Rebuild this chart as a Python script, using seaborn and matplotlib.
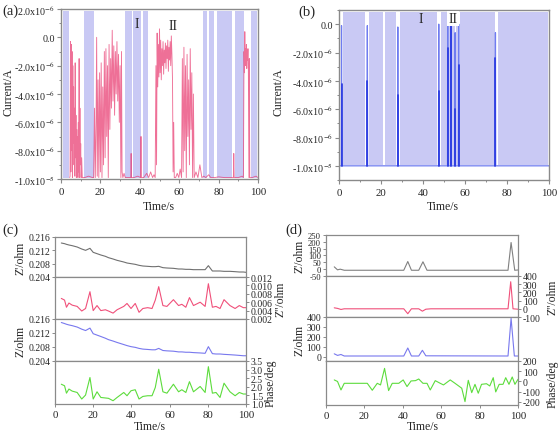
import numpy as np
import pandas as pd
import matplotlib
matplotlib.use("Agg")
import matplotlib.pyplot as plt
import seaborn as sns
from matplotlib.ticker import FixedLocator, FixedFormatter, MultipleLocator

sns.set_theme(style="white")
plt.rcParams["font.family"] = ["Liberation Serif", "DejaVu Serif"]
plt.rcParams["mathtext.fontset"] = "stix"
plt.rcParams["axes.unicode_minus"] = False

# ---------------- data: panel (a) ----------------
time_a = [4.4,
    4.6, 4.8, 5.0, 5.2, 5.4, 5.6, 5.8, 6.0, 6.2, 6.4, 6.6, 6.8, 7.0, 7.2, 7.4, 7.6, 7.8, 8.0, 8.2, 8.4,
    8.6, 8.8, 9.0, 9.2, 9.4, 9.6, 9.8, 10.0, 10.2, 10.5, 10.8,
    12.0, 14.0, 16.0,
    16.6, 17.0, 17.4, 17.8, 18.1, 18.4, 18.8, 19.2, 19.6, 20.0, 20.4, 20.8, 21.2, 21.6, 22.0, 22.4, 22.8,
    23.2, 23.6, 24.0, 24.4, 24.8, 25.2, 25.6, 26.0, 26.4, 26.8, 27.2, 27.6, 28.0, 28.4, 28.8, 29.2, 29.6,
    30.0, 30.4, 30.7, 31.0, 31.4, 32.0, 32.6,
    34.0, 35.4, 35.6, 35.8, 37.0, 39.0, 40.4, 40.6, 40.8, 42.0, 43.5, 44.5, 45.5, 46.5, 47.2,
    47.8, 48.2, 48.5, 48.8, 49.1, 49.4, 49.7, 50.0, 50.3, 50.6, 50.9, 51.2, 51.5, 51.8, 52.1, 52.4, 52.7,
    53.0, 53.3, 53.6, 53.9, 54.2, 54.5, 54.8, 55.1, 55.4, 55.7, 56.0, 56.3, 56.6, 56.9, 57.2, 57.5,
    58.2, 59.0, 59.8, 60.5,
    61.2, 61.6, 62.0, 62.4, 62.8, 63.2, 63.6, 64.0, 64.4, 64.8, 65.2, 65.6, 66.0, 66.4, 66.8, 67.2, 67.6,
    68.5, 69.5, 70.5, 71.5, 72.5, 73.5, 75.0, 76.0, 78.0, 80.0, 83.0, 86.0, 87.5, 87.7, 87.9, 90.0, 92.0,
    92.6, 92.9, 93.1, 93.3, 93.5, 93.7, 93.9, 94.1, 94.3, 94.5, 94.7, 94.9, 95.1, 95.4, 95.6, 95.8,
    97.0, 99.0, 100.0]
current_a_uA = [-9.9,
    -9.8, -0.3, -9.5, -0.5, -8.0, -1.0, -9.9, -2.0, -7.5, -3.5, -9.0, -5.0, -9.8, -1.8, -8.5, -5.5, -9.9, -6.5, -9.0, -7.0,
    -9.9, -6.0, -9.5, -1.5, -9.9, -5.0, -9.0, -7.5, -9.9, -8.5, -9.9,
    -9.9, -9.8, -9.9,
    -9.9, -5.0, -9.9, -6.0, 0.0, -9.8, -3.0, -9.9, -2.5, -9.5, -1.8, -9.9, -3.5, -9.0, -1.0, -8.5, -0.8,
    -7.0, -2.0, -9.9, -0.5, -6.5, -1.5, -5.0, 0.5, -4.5, -0.6, -5.5, -1.0, -4.0, -0.3, -4.5, -1.2, -6.0,
    -2.0, -9.9, -1.0, -9.5, -9.9, -9.6, -9.9,
    -9.9, -9.9, -8.2, -9.9, -9.9, -9.8, -9.9, -7.0, -9.9, -9.9, -9.6, -9.9, -9.5, -9.9, -9.7,
    -9.9, -2.0, -9.0, 0.3, -3.5, -0.5, -2.8, 0.6, -2.5, -0.2, -3.0, -0.8, -2.0, -0.3, -2.6, -0.9, -1.8,
    -0.4, -2.2, -0.6, -1.5, -0.2, -2.4, -0.7, -1.6, -0.3, -2.0, 0.1, -1.2, -3.0, -9.5, -6.0, -9.9,
    -9.9, -9.6, -9.9, -9.3,
    -9.9, -1.5, -9.5, -0.7, -8.0, -2.0, -9.9, -1.2, -7.0, -3.0, -9.0, -0.8, -6.5, -2.5, -9.9, -4.0, -9.9,
    -9.5, -9.9, -9.0, -9.9, -9.8, -9.9, -9.7, -9.9, -9.9, -9.85, -9.9, -9.9, -9.9, -8.2, -9.9, -9.9, -9.8,
    -9.9, -1.0, -2.5, 0.4, -2.0, -0.8, -1.8, -0.5, -2.2, -1.0, -1.6, -0.8, -2.0, -9.9, -1.5, -9.9,
    -9.9, -9.8, -9.9]
band_a_start = [1.2, 11.9, 32.5, 36.8, 41.5, 71.9, 75.3, 79.3, 88.5, 96.6]
band_a_end = [4.2, 16.8, 35.9, 40.5, 44.2, 73.9, 77.8, 86.8, 92.7, 99.7]

# ---------------- data: panel (b) ----------------
spike_b_time = [1.2, 13.5, 28.0, 47.5, 51.8, 53.3, 55.3, 57.0, 74.5]
spike_b_top_uA = [-0.1, -0.1, -0.2, 0.0, 0.0, 0.0, -0.6, 0.0, -0.6]
spike_b_dark_uA = [-4.2, -4.0, -5.0, -4.7, -1.7, 0.0, -6.0, -2.9, -2.4]
baseline_b_uA = -10.0
band_b_start = [1.7, 14.3, 21.9, 29.0, 48.6, 52.2, 53.8, 55.8, 57.6, 75.9]
band_b_end = [12.4, 20.8, 27.0, 46.8, 51.2, 53.0, 55.0, 56.6, 74.3, 99.7]

current_ticks = [2e-6, 0.0, -2e-6, -4e-6, -6e-6, -8e-6, -1e-5]
current_ticklabels = ["2.0x10$^{-6}$", "0.0", "-2.0x10$^{-6}$", "-4.0x10$^{-6}$",
                      "-6.0x10$^{-6}$", "-8.0x10$^{-6}$", "-1.0x10$^{-5}$"]

# ---------------- data: panel (c) ----------------
time_c = [3.3, 5, 6, 7.3, 9, 11.6, 14, 16, 18.3, 20, 22, 24, 26.4, 28, 30.4, 32.5, 36, 37.7, 39.8, 42,
          44, 46, 48.5, 50.8, 52.5, 54.3, 56.5, 58.6, 62, 64.7, 66.4, 68.5, 70.4, 72.5, 76, 78.6, 80.3,
          82.4, 84.3, 86.4, 88.5, 91.6, 94.3, 96.5, 98.6, 100]
zre_c = [0.2142, 0.2140, 0.2138, 0.2136, 0.2134, 0.2130, 0.2124, 0.2120, 0.2126, 0.2114, 0.2110, 0.2106,
         0.2102, 0.2098, 0.2094, 0.2090, 0.2085, 0.2082, 0.2080, 0.2078, 0.2075, 0.2073, 0.2072, 0.2071,
         0.2071, 0.2072, 0.2068, 0.2067, 0.2066, 0.2064, 0.2064, 0.2063, 0.2063, 0.2062, 0.2062, 0.2062,
         0.2074, 0.2058, 0.2058, 0.2058, 0.2057, 0.2057, 0.2056, 0.2055, 0.2055, 0.2054]
zim_c = [0.0069, 0.0065, 0.0048, 0.0058, 0.0053, 0.0050, 0.0039, 0.0045, 0.0085, 0.0040, 0.0052, 0.0040,
         0.0042, 0.0039, 0.0034, 0.0042, 0.0050, 0.0057, 0.0045, 0.0057, 0.0036, 0.0045, 0.0047, 0.0045,
         0.0065, 0.0097, 0.0052, 0.0050, 0.0066, 0.0052, 0.0055, 0.0048, 0.0071, 0.0052, 0.0060, 0.0050,
         0.0104, 0.0048, 0.0050, 0.0045, 0.0066, 0.0052, 0.0045, 0.0052, 0.0047, 0.0047]
zmod_c = [0.2150, 0.2147, 0.2145, 0.2143, 0.2141, 0.2137, 0.2131, 0.2127, 0.2134, 0.2118, 0.2114, 0.2110,
          0.2105, 0.2101, 0.2097, 0.2093, 0.2087, 0.2084, 0.2081, 0.2079, 0.2076, 0.2074, 0.2073, 0.2072,
          0.2072, 0.2076, 0.2070, 0.2069, 0.2068, 0.2066, 0.2066, 0.2065, 0.2065, 0.2064, 0.2063, 0.2062,
          0.2081, 0.2061, 0.2060, 0.2060, 0.2059, 0.2058, 0.2057, 0.2056, 0.2055, 0.2055]
phase_c = [2.15, 2.06, 1.63, 1.87, 1.75, 1.67, 1.29, 1.52, 2.54, 1.29, 1.71, 1.38, 1.35, 1.33, 1.19, 1.38,
           1.67, 1.48, 1.77, 1.83, 1.29, 1.44, 1.48, 1.48, 1.96, 3.02, 1.71, 1.63, 2.15, 1.71, 1.83, 1.67,
           2.30, 1.71, 2.02, 1.67, 3.17, 1.63, 1.67, 1.38, 2.21, 1.71, 1.48, 1.67, 1.58, 1.58]

# ---------------- data: panel (d) ----------------
time_d_zre = [4.3, 6, 7.4, 9.5, 40.5, 42.6, 44.5, 48.3, 50.5, 52.6, 94.8, 96.4, 98.3, 100]
zre_d = [17, -5, 0, -8, -8, 56, -8, -8, 54, -8, -8, 195, -8, -6]
time_d_zim = [4.3, 6, 7.8, 9.5, 40.5, 42.6, 44.5, 48.3, 50.2, 52, 54.6, 94.8, 96.2, 97.4, 100]
zim_d = [12, 5, -8, 0, 0, -60, 0, 0, -29, -5, 0, 0, 330, 0, -5]
time_d_zmod = [4.3, 6, 7.8, 9.5, 40.5, 42.6, 44.5, 48.3, 50.2, 52, 94.8, 96.4, 98.1, 100]
zmod_d = [32, 16, 25, 10, 10, 90, 10, 10, 67, 12, 10, 387, 10, 10]
time_d_phase = [4.3, 6, 7.8, 9.5, 19.8, 21.5, 24.1, 26.7, 28.4, 30.5, 32.6, 34.5, 37.9, 40.2, 42.2,
                44.3, 46.6, 48.3, 50.5, 52.6, 54.3, 56.9, 59.5, 61.2, 62.9, 64.7, 67.2, 70.7, 72.4,
                74.1, 75.9, 77.6, 79.3, 81, 83.6, 85.3, 87.1, 88.4, 90.2, 92.2, 93.6, 95.3, 97, 98.4, 100]
phase_d = [15, 0, -83, -18, -18, -18, -86, -18, -34, 128, -89, -18, -18, 15, -50, 5, 8, 24, -18, -18,
           -83, 8, -18, -34, -10, 15, -18, -66, -197, 11, -109, -28, -115, -28, -22, -44, 37, -102,
           -28, -28, 37, -28, 44, -28, 21]

# ---------------- styling ----------------
W, H = 560, 435
fig = plt.figure(figsize=(W / 100, H / 100), dpi=100)
SPINE = "#8a8a8a"
BAND = "#c9c9f4"
TICK_FS = 7.2
LAB_FS = 8.5


def add_ax(l, t, r, b):
    return fig.add_axes([l / W, 1 - b / H, (r - l) / W, (b - t) / H])


def fxy(x, y):
    return x / W, 1 - y / H


def style_box(ax, lw=1.0):
    for s in ax.spines.values():
        s.set_visible(True)
        s.set_color(SPINE)
        s.set_linewidth(lw)


def current_axes(ax, ylim):
    ax.set_xlim(0, 100)
    ax.set_ylim(*ylim)
    ax.xaxis.set_major_locator(MultipleLocator(20))
    ax.xaxis.set_minor_locator(MultipleLocator(10))
    ticks = [v for v in current_ticks if ylim[0] - 1e-12 <= v <= ylim[1] + 1e-12]
    labs = [current_ticklabels[current_ticks.index(v)] for v in ticks]
    ax.yaxis.set_major_locator(FixedLocator(ticks))
    ax.yaxis.set_major_formatter(FixedFormatter(labs))
    ax.yaxis.set_minor_locator(MultipleLocator(1e-6))
    ax.tick_params(which="both", direction="out", bottom=True, left=True, top=False, right=False,
                   color=SPINE, labelsize=TICK_FS)
    ax.tick_params(axis="x", labelsize=7.8)
    ax.tick_params(which="major", length=3, width=0.8)
    ax.tick_params(which="minor", length=1.6, width=0.7)
    ax.tick_params(axis="y", pad=1.5)
    ax.tick_params(axis="x", pad=2.5)
    style_box(ax)
    ax.set_xlabel("Time/s", fontsize=LAB_FS)
    ax.set_ylabel("Current/A", fontsize=LAB_FS)


# ---------------- panel (a) ----------------
ax_a = add_ax(61, 10, 258, 180)
for s, e in zip(band_a_start, band_a_end):
    ax_a.axvspan(s, e, ymin=0.006, ymax=0.99, color=BAND, lw=0, zorder=0)
df_a = pd.DataFrame({"t": time_a, "i": np.array(current_a_uA) * 1e-6})
sns.lineplot(data=df_a, x="t", y="i", ax=ax_a, sort=False, estimator=None,
             color="#e8336b", lw=0.65, alpha=0.7)
current_axes(ax_a, (-1e-5, 2e-6))
ax_a.xaxis.set_label_coords(*fxy(159, 201), transform=fig.transFigure)
ax_a.yaxis.set_label_coords(*fxy(15, 92), transform=fig.transFigure)
ax_a.text(38.6, 0.95e-6, "I", fontsize=10, ha="center", va="center")
ax_a.text(56.9, 0.8e-6, "II", fontsize=10, ha="center", va="center")
fig.text(*fxy(2, 11), "(a)", fontsize=10.5, va="center", ha="left")

# ---------------- panel (b) ----------------
ax_b = add_ax(339, 11, 549, 181)
for s, e in zip(band_b_start, band_b_end):
    ax_b.axvspan(s, e, ymin=(1e-6) / 1.2e-5 + 0.002, ymax=0.99, color=BAND, lw=0, zorder=0)
tb, cb = [0.0], [baseline_b_uA]
for t, top in zip(spike_b_time, spike_b_top_uA):
    tb += [t - 0.12, t, t + 0.12]
    cb += [baseline_b_uA, top, baseline_b_uA]
tb.append(100.0)
cb.append(baseline_b_uA)
df_b = pd.DataFrame({"t": tb, "i": np.array(cb) * 1e-6})
sns.lineplot(data=df_b, x="t", y="i", ax=ax_b, sort=False, estimator=None,
             color="#6f7cf0", lw=0.9)
for t, dk in zip(spike_b_time, spike_b_dark_uA):
    dfs = pd.DataFrame({"t": [t, t], "i": [baseline_b_uA * 1e-6, dk * 1e-6]})
    sns.lineplot(data=dfs, x="t", y="i", ax=ax_b, sort=False, estimator=None,
                 color="#2536e0", lw=1.2)
current_axes(ax_b, (-1.1e-5, 1e-6))
ax_b.xaxis.set_label_coords(*fxy(443, 201), transform=fig.transFigure)
ax_b.yaxis.set_label_coords(*fxy(285, 92), transform=fig.transFigure)
ax_b.text(39, 0.4e-6, "I", fontsize=10, ha="center", va="center")
ax_b.text(54.3, 0.4e-6, "II", fontsize=10, ha="center", va="center",
          bbox=dict(boxstyle="square,pad=0.1", fc="white", ec="none"))
fig.text(*fxy(298, 12), "(b)", fontsize=10.5, va="center", ha="left")


# ---------------- stacked panels (c), (d) ----------------
def stack(l, r, edges, series, xlabel_pos, letter_pos, letter):
    axes = []
    for k, sp in enumerate(series):
        ax = add_ax(l, edges[k], r, edges[k + 1])
        df = pd.DataFrame({"t": sp["t"], "v": sp["v"]})
        sns.lineplot(data=df, x="t", y="v", ax=ax, sort=False, estimator=None,
                     color=sp["color"], lw=0.8)
        ax.set_xlim(0, 100)
        ax.set_ylim(*sp["ylim"])
        ax.yaxis.set_major_locator(FixedLocator(sp["ticks"]))
        ax.yaxis.set_major_formatter(FixedFormatter(sp["labels"]))
        style_box(ax, 0.9)
        side_right = sp["side"] == "right"
        ax.tick_params(axis="y", which="both", direction="out", length=2, width=0.7, color=SPINE,
                       left=not side_right, right=side_right,
                       labelleft=not side_right, labelright=side_right,
                       labelsize=sp.get("fs", 7), pad=1.5)
        last = k == len(series) - 1
        ax.xaxis.set_major_locator(MultipleLocator(20))
        ax.tick_params(axis="x", which="both", direction="out", length=2.5 if last else 0,
                       width=0.7, color=SPINE, bottom=last, labelbottom=last, labelsize=7.8, pad=2)
        ax.set_xlabel("Time/s" if last else "", fontsize=LAB_FS)
        if last:
            ax.xaxis.set_label_coords(*fxy(*xlabel_pos), transform=fig.transFigure)
        if side_right:
            ax.yaxis.set_label_position("right")
        ax.set_ylabel(sp["ylabel"], fontsize=LAB_FS, rotation=90)
        ax.yaxis.set_label_coords(*fxy(sp["labx"], (edges[k] + edges[k + 1]) / 2),
                                  transform=fig.transFigure)
        axes.append(ax)
    fig.text(*fxy(*letter_pos), letter, fontsize=10.5, va="center", ha="left")
    return axes


series_c = [
    dict(t=time_c, v=zre_c, color="#707070", ylim=(0.204, 0.216),
         ticks=[0.204, 0.208, 0.212, 0.216], labels=["0.204", "0.208", "0.212", "0.216"],
         side="left", ylabel="Z'/ohm", labx=26),
    dict(t=time_c, v=zim_c, color="#f0507a", ylim=(0.002, 0.012),
         ticks=[0.002, 0.004, 0.006, 0.008, 0.010, 0.012],
         labels=["0.002", "0.004", "0.006", "0.008", "0.010", "0.012"],
         side="right", ylabel="Z''/ohm", labx=274),
    dict(t=time_c, v=zmod_c, color="#7878ee", ylim=(0.204, 0.216),
         ticks=[0.204, 0.208, 0.212, 0.216], labels=["0.204", "0.208", "0.212", "0.216"],
         side="left", ylabel="Z/ohm", labx=26),
    dict(t=time_c, v=phase_c, color="#5cdc3c", ylim=(1.0, 3.5),
         ticks=[1.0, 1.5, 2.0, 2.5, 3.0, 3.5], labels=["1.0", "1.5", "2.0", "2.5", "3.0", "3.5"],
         side="right", ylabel="Phase/deg", labx=265),
]
stack(55, 246, [238, 278, 320, 362, 405], series_c, (150, 421), (2, 230), "(c)")

series_d = [
    dict(t=time_d_zre, v=zre_d, color="#808080", ylim=(-50, 250),
         ticks=[-50, 0, 50, 100, 150, 200, 250],
         labels=["-50", "0", "50", "100", "150", "200", "250"],
         side="left", ylabel="Z'/ohm", labx=306, fs=6.2),
    dict(t=time_d_zim, v=zim_d, color="#f0507a", ylim=(-100, 400),
         ticks=[-100, 0, 100, 200, 300, 400], labels=["-100", "0", "100", "200", "300", "400"],
         side="right", ylabel="Z''/ohm", labx=547),
    dict(t=time_d_zmod, v=zmod_d, color="#7878ee", ylim=(-40, 400),
         ticks=[0, 100, 200, 300, 400], labels=["0", "100", "200", "300", "400"],
         side="left", ylabel="Z/ohm", labx=306),
    dict(t=time_d_phase, v=phase_d, color="#5cdc3c", ylim=(-230, 200),
         ticks=[-200, -100, 0, 100, 200], labels=["-200", "-100", "0", "100", "200"],
         side="right", ylabel="Phase/deg", labx=547),
]
stack(326, 518, [236, 277, 318, 362, 406], series_d, (423, 421), (285, 230), "(d)")

fig.savefig("out.png", dpi=100)
